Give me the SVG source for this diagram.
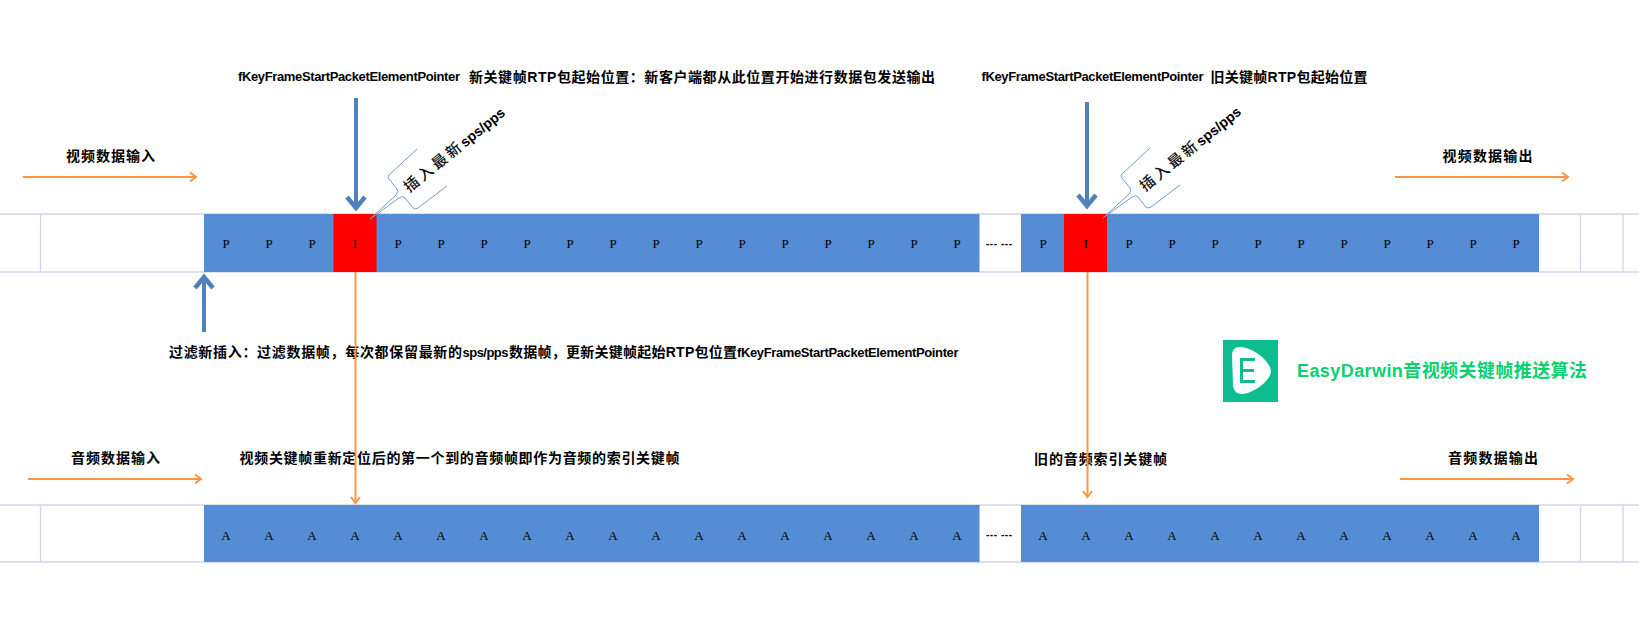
<svg xmlns="http://www.w3.org/2000/svg" xmlns:xlink="http://www.w3.org/1999/xlink" width="1639" height="617" viewBox="0 0 1639 617">
<style>
.grid{stroke:#cfd8e8;stroke-width:1.3;fill:none}
.blue{fill:#548dd4}
.red{fill:#ff0000}
.cell{font:13px "Liberation Serif",serif;fill:#000;text-anchor:middle}
.t{font-family:"Liberation Sans","Noto Sans CJK SC",sans-serif;font-size:14px;font-weight:700;fill:#000}
.dash{font-family:"Liberation Sans",sans-serif;font-size:10px;font-weight:700;fill:#000}
.rot{font-family:"Liberation Sans","Noto Sans CJK SC",sans-serif;font-size:15px;font-weight:500;fill:#111;letter-spacing:3px}
.rot tspan{font-size:14px;font-weight:700;letter-spacing:0;fill:#000}
.o{stroke:#f79646;stroke-width:2;fill:none}
.b{stroke:#4f81bd;stroke-width:4;fill:none}
.call{stroke:#6f9bd1;stroke-width:1;fill:none}
</style>
<defs>
<marker id="ao" markerUnits="userSpaceOnUse" markerWidth="12" markerHeight="12" refX="10" refY="6" orient="auto"><path d="M4 1.500L10 6L4 10.500" fill="none" stroke="#f79646" stroke-width="2"/></marker>
<marker id="ab" markerUnits="userSpaceOnUse" markerWidth="22" markerHeight="22" refX="18" refY="11" orient="auto"><path d="M7 2L18 11L7 20" fill="none" stroke="#4f81bd" stroke-width="4.500"/></marker>
<path id="callout" d="M370 219L396 195Q399 191 397 189L389 179Q387 177 389 175L417 149M370 219L399 198Q403 195 405 198L413 208Q415 210 418 208L447 186"/>
</defs>
<g id="video-row">
<path class="grid" d="M0 214H1639M0 272H1639M40.500 214V272M1580.500 214V272M1623 214V272"/>
<rect class="blue" x="204" y="214" width="775.500" height="58"/>
<rect class="blue" x="1021" y="214" width="518" height="58"/>
<rect class="red" x="333.500" y="214" width="43" height="58"/>
<rect class="red" x="1064" y="214" width="43" height="58"/>
<g class="cell">
<text x="226" y="248">P</text><text x="269" y="248">P</text><text x="312" y="248">P</text><text x="355" y="248">I</text><text x="398" y="248">P</text><text x="441" y="248">P</text><text x="484" y="248">P</text><text x="527" y="248">P</text><text x="570" y="248">P</text><text x="613" y="248">P</text><text x="656" y="248">P</text><text x="699" y="248">P</text><text x="742" y="248">P</text><text x="785" y="248">P</text><text x="828" y="248">P</text><text x="871" y="248">P</text><text x="914" y="248">P</text><text x="957" y="248">P</text>
<text x="1043" y="248">P</text><text x="1086" y="248">I</text><text x="1129" y="248">P</text><text x="1172" y="248">P</text><text x="1215" y="248">P</text><text x="1258" y="248">P</text><text x="1301" y="248">P</text><text x="1344" y="248">P</text><text x="1387" y="248">P</text><text x="1430" y="248">P</text><text x="1473" y="248">P</text><text x="1516" y="248">P</text>
</g>
<text class="dash" x="986" y="247" textLength="26">--- ---</text>
</g>
<g id="audio-row">
<path class="grid" d="M0 505H1639M0 562H1639M40.500 505V562M1580.500 505V562M1623 505V562"/>
<rect class="blue" x="204" y="505" width="775.500" height="57"/>
<rect class="blue" x="1021" y="505" width="518" height="57"/>
<g class="cell">
<text x="226" y="540">A</text><text x="269" y="540">A</text><text x="312" y="540">A</text><text x="355" y="540">A</text><text x="398" y="540">A</text><text x="441" y="540">A</text><text x="484" y="540">A</text><text x="527" y="540">A</text><text x="570" y="540">A</text><text x="613" y="540">A</text><text x="656" y="540">A</text><text x="699" y="540">A</text><text x="742" y="540">A</text><text x="785" y="540">A</text><text x="828" y="540">A</text><text x="871" y="540">A</text><text x="914" y="540">A</text><text x="957" y="540">A</text>
<text x="1043" y="540">A</text><text x="1086" y="540">A</text><text x="1129" y="540">A</text><text x="1172" y="540">A</text><text x="1215" y="540">A</text><text x="1258" y="540">A</text><text x="1301" y="540">A</text><text x="1344" y="540">A</text><text x="1387" y="540">A</text><text x="1430" y="540">A</text><text x="1473" y="540">A</text><text x="1516" y="540">A</text>
</g>
<text class="dash" x="986" y="538" textLength="26">--- ---</text>
</g>
<g id="callout-new">
<use xlink:href="#callout" href="#callout" class="call"/>
<text class="rot" transform="translate(409 193) rotate(-39)">插入最新<tspan>sps/pps</tspan></text>
</g>
<g id="callout-old">
<use xlink:href="#callout" href="#callout" class="call" transform="translate(733 -1)"/>
<text class="rot" transform="translate(1145 192) rotate(-39)">插入最新<tspan>sps/pps</tspan></text>
</g>
<g id="labels">
<text class="t" x="238" y="81" textLength="222" style="font-size:13px">fKeyFrameStartPacketElementPointer</text>
<text class="t" x="469" y="82" textLength="466">新关键帧RTP包起始位置：新客户端都从此位置开始进行数据包发送输出</text>
<text class="t" x="981.500" y="81" textLength="222" style="font-size:13px">fKeyFrameStartPacketElementPointer</text>
<text class="t" x="1210.500" y="82" textLength="157">旧关键帧RTP包起始位置</text>
<text class="t" x="66" y="161" textLength="89">视频数据输入</text>
<text class="t" x="1442.500" y="161" textLength="90">视频数据输出</text>
<text class="t" x="71" y="463" textLength="89">音频数据输入</text>
<text class="t" x="1448" y="463" textLength="90">音频数据输出</text>
<text class="t" x="169" y="357" textLength="293">过滤新插入：过滤数据帧，每次都保留最新的</text>
<text class="t" x="462.500" y="357" textLength="46" style="font-size:13px">sps/pps</text>
<text class="t" x="509" y="357" textLength="228">数据帧，更新关键帧起始RTP包位置</text>
<text class="t" x="737" y="357" textLength="221.500" style="font-size:13px">fKeyFrameStartPacketElementPointer</text>
<text class="t" x="239.500" y="463" textLength="440">视频关键帧重新定位后的第一个到的音频帧即作为音频的索引关键帧</text>
<text class="t" x="1034" y="464" textLength="133">旧的音频索引关键帧</text>
</g>
<g id="connectors">
<line class="o" x1="23" y1="177" x2="196" y2="177" marker-end="url(#ao)"/>
<line class="o" x1="1395" y1="177" x2="1568" y2="177" marker-end="url(#ao)"/>
<line class="o" x1="28" y1="479" x2="201" y2="479" marker-end="url(#ao)"/>
<line class="o" x1="1400" y1="479" x2="1573" y2="479" marker-end="url(#ao)"/>
<line class="b" x1="356" y1="98" x2="356" y2="208" marker-end="url(#ab)"/>
<line class="b" x1="1087" y1="102" x2="1087" y2="206" marker-end="url(#ab)"/>
<line class="b" x1="204" y1="332" x2="204" y2="277" marker-end="url(#ab)"/>
<line class="o" x1="355.500" y1="272" x2="355.500" y2="503" marker-end="url(#ao)"/>
<line class="o" x1="1087.500" y1="272" x2="1087.500" y2="497" marker-end="url(#ao)"/>
</g>
<g id="logo">
<rect x="1223" y="340" width="55" height="62" fill="#0dbd8f"/>
<path d="M1240 347C1253 347 1271 362 1271 371C1271 381 1252 394 1242 394C1236 394 1233 390 1233 384L1232 356C1232 350 1235 347 1240 347Z" fill="#fff"/>
<path d="M1255 359.500H1241.500V381.500H1255M1241.500 370.500H1254" fill="none" stroke="#0dbd8f" stroke-width="3"/>
<text x="1297" y="377" font-family="'Liberation Sans','Noto Sans CJK SC',sans-serif" font-size="18" font-weight="700" fill="#0ad070" textLength="290">EasyDarwin音视频关键帧推送算法</text>
</g>
</svg>
